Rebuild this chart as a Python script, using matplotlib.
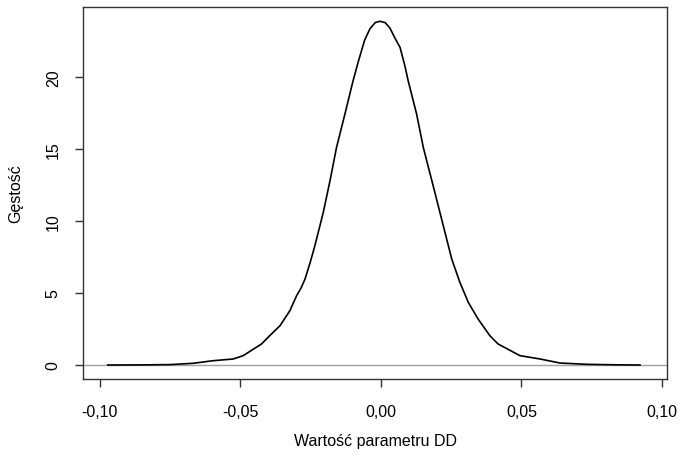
import matplotlib
matplotlib.use("Agg")
import matplotlib.pyplot as plt

plt.rcParams['font.family'] = ['Liberation Sans', 'DejaVu Sans']

# density curve
dd_x = [-0.0972, -0.0850, -0.0750, -0.0668, -0.0597, -0.0525, -0.0490, -0.0425,
        -0.0395, -0.0359, -0.0324, -0.0300, -0.0284, -0.0270, -0.0252, -0.0235,
        -0.0205, -0.0180, -0.0158, -0.0128, -0.0099, -0.0080, -0.0058, -0.0039,
        -0.0020, -0.0004, 0.0015, 0.0032, 0.0050, 0.0068, 0.0085,
        0.0097, 0.0127, 0.0151, 0.0172, 0.0180, 0.0204, 0.0228, 0.0252,
        0.0281, 0.0311, 0.0346, 0.0388, 0.0417, 0.0495, 0.0566, 0.0637,
        0.0732, 0.0820, 0.0922]
dd_y = [0.00, 0.01, 0.03, 0.12, 0.30, 0.42, 0.65, 1.46,
        2.05, 2.73, 3.77, 4.81, 5.35, 5.97, 7.10, 8.28,
        10.60, 12.90, 15.10, 17.43, 19.74, 21.10, 22.55, 23.35,
        23.78, 23.87, 23.78, 23.40, 22.70, 22.06, 20.80,
        19.74, 17.43, 15.10, 13.50, 12.90, 11.06, 9.21, 7.36,
        5.74, 4.35, 3.19, 2.03, 1.46, 0.65, 0.42, 0.14,
        0.05, 0.02, 0.00]

x_ticks = [-0.10, -0.05, 0.00, 0.05, 0.10]
x_tick_labels = ['-0,10', '-0,05', '0,00', '0,05', '0,10']
y_ticks = [0, 5, 10, 15, 20]
y_tick_labels = ['0', '5', '10', '15', '20']

fig = plt.figure(figsize=(6.81, 4.60), dpi=100)
ax = fig.add_axes([83/681, 80/460, (667-83)/681, (380-8)/460])

ax.axhline(0, color='#a0a0a0', lw=1.0, zorder=1)
ax.plot(dd_x, dd_y, color='black', lw=1.2, zorder=2, solid_joinstyle='round')

ax.set_xlim(-0.1060, 0.1018)
ax.set_ylim(-0.97, 24.86)

ax.set_xticks(x_ticks)
ax.set_xticklabels(x_tick_labels)
ax.set_yticks(y_ticks)
ax.set_yticklabels(y_tick_labels, rotation=90, va='center')

ax.tick_params(axis='both', direction='out', length=6, width=1.0, color='#333333',
               labelsize=11.5, labelcolor='black')
ax.tick_params(axis='x', pad=12)
ax.tick_params(axis='y', pad=10)
for s in ax.spines.values():
    s.set_color('#333333')
    s.set_linewidth(1.0)

ax.set_xlabel('Wartość parametru DD', fontsize=11.5, labelpad=10)
ax.set_ylabel('Gęstość', fontsize=11.5, labelpad=16)

fig.savefig('out.png', dpi=100)
